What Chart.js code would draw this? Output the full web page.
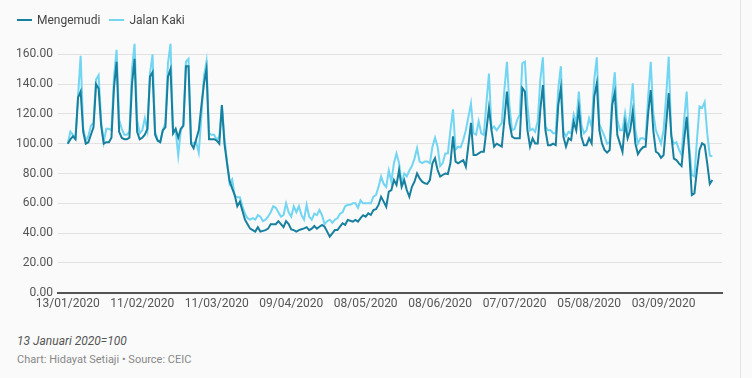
<!DOCTYPE html>
<html>
  <head>
    <meta charset="UTF-8" />
    <title>Mengemudi vs Jalan Kaki</title>
    <style>
      body {
        margin: 0;
        padding: 0;
        width: 752px;
        height: 378px;
        background-color: #fafafa;
        font-family: Roboto, Arial, sans-serif;
        overflow: hidden;
        position: relative;
      }
      .edge {
        position: absolute;
        left: 740px;
        top: 0;
        width: 1px;
        height: 378px;
        background: #e3e3e3;
      }
      .legend {
        position: absolute;
        left: 17px;
        top: 13px;
        font-size: 12px;
        color: #444;
        display: flex;
      }
      .legend-item {
        display: flex;
        align-items: center;
        margin-right: 9px;
      }
      .legend-line {
        width: 15px;
        height: 2px;
        margin-right: 5px;
      }
      .chart-container {
        position: absolute;
        left: 0;
        top: 0;
        width: 752px;
        height: 320px;
      }
      .note {
        position: absolute;
        left: 17px;
        top: 334px;
        font-size: 12px;
        font-style: italic;
        color: #555;
      }
      .source {
        position: absolute;
        left: 17px;
        top: 353px;
        font-size: 11px;
        color: #888;
      }
    </style>
  </head>
  <body>
    <div class="edge"></div>
    <div class="chart-container">
      <canvas id="mobilityChart"></canvas>
    </div>
    <div class="legend" id="legend"></div>
    <div class="note">13 Januari 2020=100</div>
    <div class="source">Chart: Hidayat Setiaji • Source: CEIC</div>

    <script src="https://cdn.jsdelivr.net/npm/chart.js"></script>
    <script>
      // tick labels on x axis, one every 29 data points
      const tickLabels = [
        "13/01/2020", "11/02/2020", "11/03/2020", "09/04/2020", "08/05/2020",
        "08/06/2020", "07/07/2020", "05/08/2020", "03/09/2020"
      ];
      const tickEvery = 29;

      const seriesNames = ["Mengemudi", "Jalan Kaki"];
      const seriesColors = ["#17809f", "#72d5f2"];

      // daily index, 13 Januari 2020 = 100
      const mengemudi = [
        100, 103, 105, 103, 131, 135, 108, 100, 101, 106, 111, 140, 137, 112,
        100, 101, 101, 104, 138, 155, 108, 104, 103, 103, 104, 140, 157, 108,
        103, 104, 106, 110, 145, 148, 106, 102, 101, 109, 111, 145, 150, 107,
        110, 104, 110, 112, 152, 152, 100, 97, 103, 109, 125, 140, 150, 103,
        103, 103, 102, 100, 126, 100, 87, 75, 70, 65.5, 58, 61, 55, 49,
        46, 43, 42, 41, 44, 41, 41.5, 42, 43, 46, 46, 46, 48, 46,
        44, 48, 46, 42.5, 42, 41, 42, 42.6, 43.2, 44, 42, 43, 44.8, 43,
        44.3, 45.5, 44.3, 41, 37.6, 39.8, 42, 42, 44.3, 46.6, 45.5, 48.8, 48.3, 47.7,
        48.8, 47.7, 50, 52, 51, 53.3, 52.2, 55.5, 56, 58.9, 64.4, 61.1, 57.7, 67.8,
        68.9, 75.6, 72.3, 82.3, 71.1, 75.6, 68.9, 64.4, 71.1, 74.5, 80.1, 76.7, 74.5, 73.4,
        73, 75.6, 86.8, 90.2, 82.3, 78, 79, 80, 79.6, 87, 105, 88, 86.8, 88,
        89, 84.6, 99, 114, 92.4, 92.4, 93.5, 94.6, 94.6, 109, 124, 109, 98, 100,
        99, 98, 116, 135, 113.7, 104.7, 103.6, 103.6, 103.6, 137.4, 135, 109, 98, 103.6,
        100.2, 100.2, 122.7, 139.4, 109, 99, 99, 100, 99, 126, 137.4, 104.7, 98, 103.6,
        102.5, 114.8, 109, 123.8, 104.7, 99, 99, 103.6, 100.2, 131.6, 140.5, 109, 100.2, 95.8,
        94, 95.8, 126, 134.4, 105.8, 100.2, 94.6, 113.7, 103.6, 109, 121.6, 100.2, 93, 95.8,
        97.6, 98, 120.5, 136, 109, 94.6, 93.5, 90.5, 92.4, 113, 134, 106, 90, 89,
        86.8, 85, 102.5, 118, 93.5, 65.5, 66.6, 82.3, 95.8, 100.2, 99, 86.8, 73, 75.6
      ];
      const jalanKaki = [
        100, 108, 106, 104, 132, 159, 110, 102, 105, 112, 114, 143, 146, 115,
        101, 110, 110, 109, 145, 163, 116, 110, 106, 106, 108, 150, 167, 116,
        107, 109, 117, 109, 147, 160, 108, 102.5, 101, 109, 114, 154, 167, 107,
        109, 92, 109, 113, 155, 157, 101, 100, 101, 94, 118, 145, 155, 107,
        106, 106, 102.5, 105, 126, 104, 88, 73, 76, 65, 64, 64, 58, 53,
        50, 49, 50, 49, 52, 51, 48, 49, 51, 54, 58, 57, 54, 51,
        52, 60, 54, 51, 58, 54, 58, 52, 49, 59, 51, 49, 53, 52,
        55.5, 52, 46, 48, 49, 47, 49, 50, 53, 54, 58, 59, 59, 60,
        60, 57, 62, 60, 60, 60, 60, 64.5, 65.5, 71, 78, 73, 71, 82,
        74.5, 87, 93.5, 87, 73, 80, 78, 82, 85, 90, 97, 88, 87, 88,
        88, 87, 98, 104, 98, 85, 87, 93.5, 93.5, 109, 123, 96, 98, 97.6,
        102.5, 109, 118, 127, 107, 106, 115, 107, 106, 127, 147, 110, 111.5, 109,
        111.5, 114, 136, 155, 125, 109, 110, 116, 119.5, 154, 155, 125, 109, 110,
        108, 115, 143, 158, 111.5, 109, 109, 107, 107, 137, 152, 108, 105, 108,
        107, 119.5, 114, 135, 112.6, 107, 109, 117, 111.5, 143, 158, 113, 109, 105,
        100, 101, 131.6, 148, 116, 109, 109, 120.5, 109, 120.5, 140.5, 109, 100, 103.6,
        103.6, 102.5, 131.6, 155, 120.5, 109, 104.7, 100, 109, 131.6, 158.4, 105, 100, 101,
        96, 92.4, 116, 135, 98, 79, 78, 102.5, 125, 124, 128, 107, 92, 91.5
      ];

      const yTicks = [0, 20, 40, 60, 80, 100, 120, 140, 160];

      // html legend
      const legend = document.getElementById("legend");
      seriesNames.forEach((name, i) => {
        const item = document.createElement("div");
        item.className = "legend-item";
        item.innerHTML =
          '<span class="legend-line" style="background:' + seriesColors[i] + '"></span>' + name;
        legend.appendChild(item);
      });

      const toPoints = (arr) => arr.map((v, i) => ({ x: i, y: v }));

      const pxPerPoint = 2.568;
      const xMin = -(67.8 - 58) / pxPerPoint;
      const xMax = xMin + 664 / pxPerPoint;

      new Chart(document.getElementById("mobilityChart"), {
        type: "line",
        data: {
          datasets: [
            {
              label: seriesNames[0],
              data: toPoints(mengemudi),
              borderColor: seriesColors[0],
              borderWidth: 2,
              pointRadius: 0,
              tension: 0,
              fill: false,
            },
            {
              label: seriesNames[1],
              data: toPoints(jalanKaki),
              borderColor: seriesColors[1],
              borderWidth: 2,
              pointRadius: 0,
              tension: 0,
              fill: false,
            },
          ],
        },
        options: {
          responsive: true,
          maintainAspectRatio: false,
          animation: false,
          layout: { padding: { left: 0, right: 30, top: 39.4, bottom: 0 } },
          plugins: {
            legend: { display: false },
            tooltip: { enabled: false },
          },
          scales: {
            x: {
              type: "linear",
              min: xMin,
              max: xMax,
              afterBuildTicks: (scale) => {
                scale.ticks = tickLabels.map((_, i) => ({ value: i * tickEvery }));
              },
              afterFit: (scale) => {
                scale.height = 27.3;
              },
              ticks: {
                autoSkip: false,
                maxRotation: 0,
                padding: 4,
                color: "#555",
                font: { family: "Roboto", size: 12 },
                callback: (value) => tickLabels[Math.round(value / tickEvery)],
              },
              grid: { display: false, drawTicks: false },
              border: { display: true, color: "#555", width: 2 },
            },
            y: {
              min: 0,
              max: 170,
              afterBuildTicks: (scale) => {
                scale.ticks = yTicks.map((v) => ({ value: v }));
              },
              afterFit: (scale) => {
                scale.width = 58;
              },
              ticks: {
                padding: 5,
                color: "#555",
                font: { family: "Roboto", size: 12 },
                callback: (value) => value.toFixed(2),
              },
              grid: {
                color: "#e2e2e2",
                lineWidth: 1,
                drawTicks: false,
              },
              border: { display: false },
            },
          },
        },
      });
    </script>
  </body>
</html>
